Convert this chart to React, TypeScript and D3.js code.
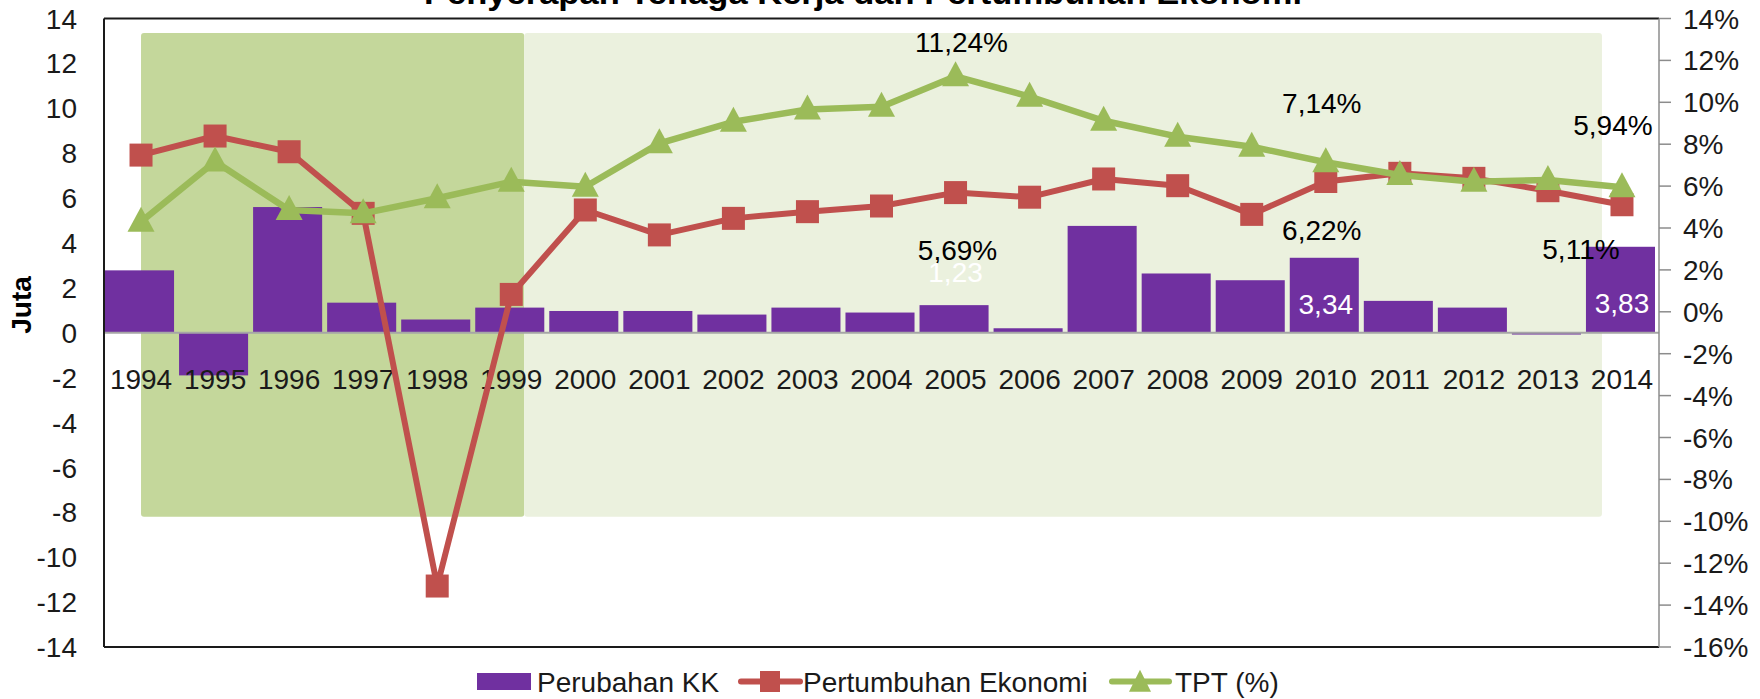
import React from "react";
import * as d3 from "d3";

const years = ["1994","1995","1996","1997","1998","1999","2000","2001","2002","2003","2004","2005","2006","2007","2008","2009","2010","2011","2012","2013","2014"];
const perubahanKK = [2.78,-1.9,5.6,1.34,0.59,1.12,0.97,0.97,0.81,1.12,0.9,1.23,0.2,4.76,2.64,2.34,3.34,1.42,1.12,-0.08,3.83];
const pertumbuhanEkonomi = [7.48,8.39,7.64,4.7,-13.09,0.83,4.86,3.67,4.46,4.78,5.05,5.69,5.47,6.34,6.02,4.65,6.22,6.61,6.37,5.78,5.11];
const tpt = [4.3,7.17,4.86,4.7,5.42,6.21,5.97,8.04,9.07,9.66,9.79,11.24,10.27,9.12,8.36,7.88,7.14,6.53,6.21,6.29,5.94];
const leftTicks = [14,12,10,8,6,4,2,0,-2,-4,-6,-8,-10,-12,-14];
const rightTicks = [14,12,10,8,6,4,2,0,-2,-4,-6,-8,-10,-12,-14,-16];
const legendLabels = ["Perubahan KK","Pertumbuhan Ekonomi","TPT (%)"];
const titleText = "Penyerapan Tenaga Kerja dan Pertumbuhan Ekonomi";
const axisTitle = "Juta";

const W = 1760, H = 699;
const L = 104, R = 1659, T = 18.5, B = 647;
const FONT = "'Liberation Sans Narrow', 'Liberation Sans', 'DejaVu Sans Condensed', sans-serif";
const FS = 28;
const PURPLE = "#7030a0", RED = "#c0504d", GREEN = "#9bbb59";

const fmt = (v: number, pct: boolean) => v.toFixed(2).replace(".", ",") + (pct ? "%" : "");

export default function App() {
  const x = d3.scaleBand<string>().domain(years).range([L, R]).padding(0);
  const bw = x.bandwidth();
  const cx = (yr: string) => (x(yr) as number) + bw / 2;
  const yL = d3.scaleLinear().domain([-14, 14]).range([B, T]);
  const yR = d3.scaleLinear().domain([-16, 14]).range([B, T]);

  const lineGen = d3.line<number>().x((_, i) => cx(years[i])).y((d) => yR(d));

  const idx = (yr: string) => years.indexOf(yr);
  // data labels: series, year, offsets
  const labels = [
    { v: tpt[idx("2005")], y: yR(tpt[idx("2005")]), x: cx("2005"), dx: 6, dy: -34, pct: true, color: "#000" },
    { v: pertumbuhanEkonomi[idx("2005")], y: yR(pertumbuhanEkonomi[idx("2005")]), x: cx("2005"), dx: 2, dy: 57, pct: true, color: "#000" },
    { v: perubahanKK[idx("2005")], y: yL(perubahanKK[idx("2005")]), x: cx("2005"), dx: 0, dy: -33, pct: false, color: "#fff" },
    { v: tpt[idx("2010")], y: yR(tpt[idx("2010")]), x: cx("2010"), dx: -4, dy: -59, pct: true, color: "#000" },
    { v: pertumbuhanEkonomi[idx("2010")], y: yR(pertumbuhanEkonomi[idx("2010")]), x: cx("2010"), dx: -4, dy: 48, pct: true, color: "#000" },
    { v: perubahanKK[idx("2010")], y: yL(perubahanKK[idx("2010")]), x: cx("2010"), dx: 0, dy: 46, pct: false, color: "#fff" },
    { v: tpt[idx("2014")], y: yR(tpt[idx("2014")]), x: cx("2014"), dx: -9, dy: -62, pct: true, color: "#000" },
    { v: pertumbuhanEkonomi[idx("2014")], y: yR(pertumbuhanEkonomi[idx("2014")]), x: cx("2014"), dx: -41, dy: 44, pct: true, color: "#000" },
    { v: perubahanKK[idx("2014")], y: yL(perubahanKK[idx("2014")]), x: cx("2014"), dx: 0, dy: 56, pct: false, color: "#fff" },
  ];

  const shadeTop = yL(13.35), shadeBot = yL(-8.2);
  const darkX0 = cx("1994"), darkX1 = cx("1999") + 13;
  const lightX1 = (x("2014") as number) + 17;

  const sq = 23;
  const tri = (px: number, py: number, w = 27, h = 25) =>
    `M${px},${py - h * 0.6}L${px + w / 2},${py + h * 0.4}L${px - w / 2},${py + h * 0.4}Z`;

  return (
    <svg width={W} height={H} style={{ display: "block", position: "absolute", left: 0, top: 0, background: "#fff" }} fontFamily={FONT}>
      {/* title (cut off at top) */}
      <text x={863} y={3.5} textAnchor="middle" fontWeight="bold" fontSize={32} textLength={878} lengthAdjust="spacingAndGlyphs">{titleText}</text>

      {/* shaded periods */}
      <rect x={darkX0} y={shadeTop} width={darkX1 - darkX0} height={shadeBot - shadeTop} fill="#c4d79b" rx={3} />
      <rect x={darkX1} y={shadeTop} width={lightX1 - darkX1} height={shadeBot - shadeTop} fill="#ebf1de" rx={3} />

      {/* bars */}
      {perubahanKK.map((v, i) => {
        const y0 = yL(0), y1 = yL(v);
        return (
          <rect key={years[i]} x={(x(years[i]) as number) + 1} y={Math.min(y0, y1)} width={bw - 5} height={Math.abs(y1 - y0)} fill={PURPLE} />
        );
      })}

      {/* zero category axis */}
      <line x1={L} x2={R} y1={yL(0)} y2={yL(0)} stroke="#a6a6a6" strokeWidth={2} />

      {/* frame */}
      <line x1={L} x2={R} y1={T} y2={T} stroke="#1a1a1a" strokeWidth={2} />
      <line x1={L} x2={L} y1={T} y2={B} stroke="#1a1a1a" strokeWidth={2} />
      <line x1={L} x2={R} y1={B} y2={B} stroke="#1a1a1a" strokeWidth={2} />
      <line x1={R} x2={R} y1={T} y2={B} stroke="#8c8c8c" strokeWidth={1.5} />

      {/* right axis ticks */}
      {rightTicks.map((t) => (
        <g key={t}>
          <line x1={R} x2={R + 12} y1={yR(t)} y2={yR(t)} stroke="#8c8c8c" strokeWidth={1.5} />
          <text x={1683} y={yR(t)} dy="0.36em" fontSize={FS} fill="#1a1a1a">{t}%</text>
        </g>
      ))}

      {/* left axis labels */}
      {leftTicks.map((t) => (
        <text key={t} x={77} y={yL(t)} dy="0.36em" textAnchor="end" fontSize={FS} fill="#1a1a1a">{t}</text>
      ))}
      <text transform={`translate(31,305) rotate(-90)`} textAnchor="middle" fontWeight="bold" fontSize={FS}>{axisTitle}</text>

      {/* category labels */}
      {years.map((yr) => (
        <text key={yr} x={cx(yr)} y={379} dy="0.36em" textAnchor="middle" fontSize={FS} fill="#1a1a1a">{yr}</text>
      ))}

      {/* red line */}
      <path d={lineGen(pertumbuhanEkonomi) || ""} fill="none" stroke={RED} strokeWidth={6} strokeLinejoin="round" />
      {pertumbuhanEkonomi.map((v, i) => (
        <rect key={i} x={cx(years[i]) - sq / 2} y={yR(v) - sq / 2} width={sq} height={sq} fill={RED} />
      ))}

      {/* green line */}
      <path d={lineGen(tpt) || ""} fill="none" stroke={GREEN} strokeWidth={6.5} strokeLinejoin="round" />
      {tpt.map((v, i) => (
        <path key={i} d={tri(cx(years[i]), yR(v))} fill={GREEN} />
      ))}

      {/* data labels */}
      {labels.map((lb, i) => (
        <text key={i} x={lb.x + lb.dx} y={lb.y + lb.dy} dy="0.36em" textAnchor="middle" fontSize={FS} fill={lb.color}>{fmt(lb.v, lb.pct)}</text>
      ))}

      {/* legend */}
      <rect x={477} y={673} width={54} height={17} fill={PURPLE} />
      <text x={537} y={681.5} dy="0.36em" fontSize={FS} fill="#1a1a1a">{legendLabels[0]}</text>
      <line x1={741} x2={800} y1={681.5} y2={681.5} stroke={RED} strokeWidth={6} strokeLinecap="round" />
      <rect x={760} y={671} width={20} height={21} fill={RED} />
      <text x={803} y={681.5} dy="0.36em" fontSize={FS} fill="#1a1a1a">{legendLabels[1]}</text>
      <line x1={1112} x2={1169} y1={681.5} y2={681.5} stroke={GREEN} strokeWidth={6} strokeLinecap="round" />
      <path d={tri(1140, 683, 22, 22)} fill={GREEN} />
      <text x={1175} y={681.5} dy="0.36em" fontSize={FS} fill="#1a1a1a">{legendLabels[2]}</text>
    </svg>
  );
}
